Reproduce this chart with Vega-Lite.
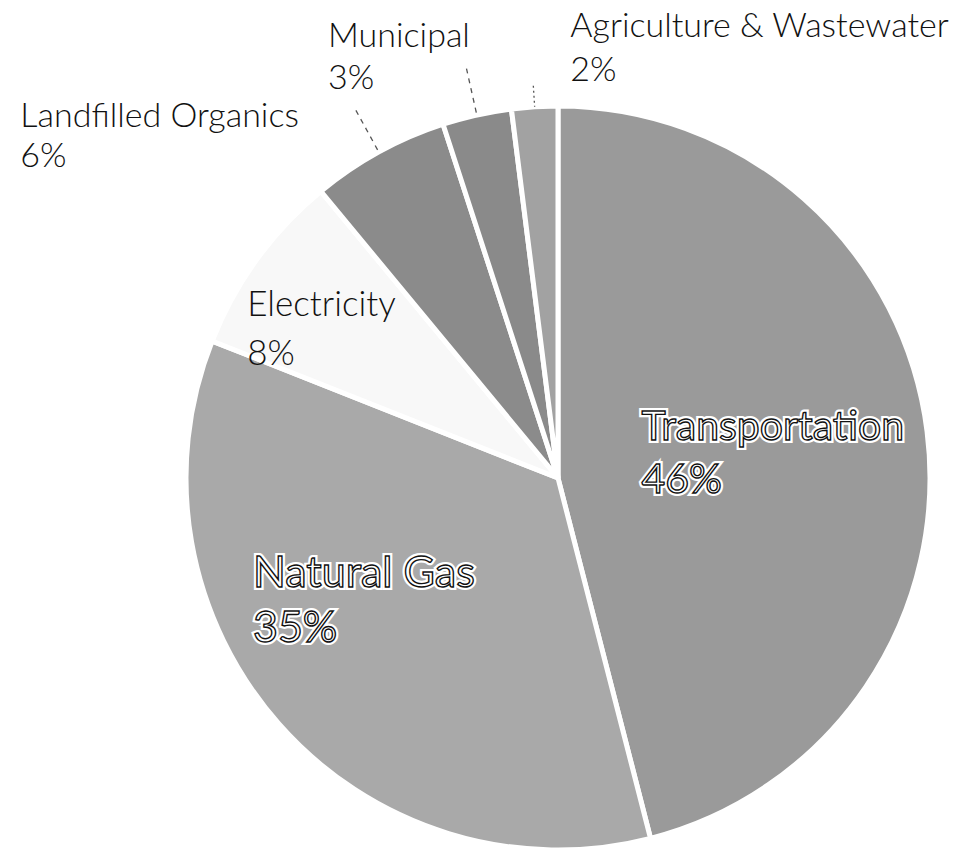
{
  "$schema": "https://vega.github.io/schema/vega-lite/v6.json",
  "width": 744,
  "height": 744,
  "autosize": {"type": "none"},
  "padding": {"left": 186, "top": 106, "right": 43, "bottom": 8},
  "background": "white",
  "config": {"view": {"stroke": null}},
  "data": {
    "values": [
      {"category": "Transportation", "value": 46, "rank": 1, "label": "Transportation\n46%"},
      {"category": "Natural Gas", "value": 35, "rank": 2, "label": "Natural Gas\n35%"},
      {"category": "Electricity", "value": 8, "rank": 3, "label": "Electricity\n8%"},
      {"category": "Landfilled Organics", "value": 6, "rank": 4, "label": "Landfilled Organics\n6%"},
      {"category": "Municipal", "value": 3, "rank": 5, "label": "Municipal\n3%"},
      {"category": "Agriculture & Wastewater", "value": 2, "rank": 6, "label": "Agriculture & Wastewater\n2%"}
    ]
  },
  "encoding": {
    "theta": {"field": "value", "type": "quantitative", "stack": true},
    "order": {"field": "rank", "type": "quantitative", "sort": "ascending"},
    "detail": {"field": "category", "type": "nominal"}
  },
  "layer": [
    {
      "mark": {"type": "arc", "radius": 372, "stroke": "white", "strokeWidth": 5},
      "encoding": {
        "color": {
          "field": "category",
          "type": "nominal",
          "legend": null,
          "scale": {
            "domain": ["Transportation", "Natural Gas", "Electricity", "Landfilled Organics", "Municipal", "Agriculture & Wastewater"],
            "range": ["#9a9a9a", "#a9a9a9", "#f8f8f8", "#8b8b8b", "#8a8a8a", "#a2a2a2"]
          }
        }
      }
    },
    {
      "mark": {"type": "arc", "radius": 419.5, "radius2": 372, "padAngle": 0.8, "fill": null, "stroke": "#555", "strokeWidth": 1.3, "strokeDash": [5, 5]},
      "encoding": {
        "strokeOpacity": {"condition": {"test": "datum.rank === 4 || datum.rank === 5", "value": 1}, "value": 0}
      }
    },
    {
      "mark": {"type": "arc", "radius": 393, "radius2": 372, "padAngle": 0.8, "fill": null, "stroke": "#555", "strokeWidth": 1.3, "strokeDash": [2, 3]},
      "encoding": {
        "strokeOpacity": {"condition": {"test": "datum.rank === 6", "value": 1}, "value": 0}
      }
    },
    {
      "mark": {"type": "text", "radius": 442, "dx": 40, "dy": 0, "align": "left", "baseline": "alphabetic", "font": "Lato", "fontWeight": 300, "fontSize": 34, "lineBreak": "\n", "lineHeight": 44, "fill": "#111"},
      "encoding": {"text": {"condition": {"test": "datum.rank === 6", "field": "label"}, "value": ""}}
    },
    {
      "mark": {"type": "text", "radius": 440, "dx": -134, "dy": -2, "align": "left", "baseline": "alphabetic", "font": "Lato", "fontWeight": 300, "fontSize": 34, "lineBreak": "\n", "lineHeight": 42, "fill": "#111"},
      "encoding": {"text": {"condition": {"test": "datum.rank === 5", "field": "label"}, "value": ""}}
    },
    {
      "mark": {"type": "text", "radius": 400, "dx": -345, "dy": 0, "align": "left", "baseline": "alphabetic", "font": "Lato", "fontWeight": 300, "fontSize": 34, "lineBreak": "\n", "lineHeight": 40, "fill": "#111"},
      "encoding": {"text": {"condition": {"test": "datum.rank === 4", "field": "label"}, "value": ""}}
    },
    {
      "mark": {"type": "text", "radius": 300, "dx": -68, "dy": 14, "align": "left", "baseline": "alphabetic", "font": "Lato", "fontWeight": 300, "fontSize": 35, "lineBreak": "\n", "lineHeight": 49, "fill": "#111"},
      "encoding": {"text": {"condition": {"test": "datum.rank === 3", "field": "label"}, "value": ""}}
    },
    {
      "mark": {"type": "text", "radius": 190, "dx": -105, "dy": -14, "align": "left", "baseline": "alphabetic", "font": "Lato", "fontSize": 41, "lineBreak": "\n", "lineHeight": 53, "fill": "white", "stroke": "white", "strokeWidth": 6},
      "encoding": {"text": {"condition": {"test": "datum.rank === 1", "field": "label"}, "value": ""}}
    },
    {
      "mark": {"type": "text", "radius": 190, "dx": -105, "dy": -14, "align": "left", "baseline": "alphabetic", "font": "Lato", "fontSize": 41, "lineBreak": "\n", "lineHeight": 53, "fill": "white", "stroke": "#111", "strokeWidth": 1.4},
      "encoding": {"text": {"condition": {"test": "datum.rank === 1", "field": "label"}, "value": ""}}
    },
    {
      "mark": {"type": "text", "radius": 200, "dx": -155, "dy": -23, "align": "left", "baseline": "alphabetic", "font": "Lato", "fontSize": 43, "lineBreak": "\n", "lineHeight": 55, "fill": "white", "stroke": "white", "strokeWidth": 6},
      "encoding": {"text": {"condition": {"test": "datum.rank === 2", "field": "label"}, "value": ""}}
    },
    {
      "mark": {"type": "text", "radius": 200, "dx": -155, "dy": -23, "align": "left", "baseline": "alphabetic", "font": "Lato", "fontSize": 43, "lineBreak": "\n", "lineHeight": 55, "fill": "white", "stroke": "#111", "strokeWidth": 1.4},
      "encoding": {"text": {"condition": {"test": "datum.rank === 2", "field": "label"}, "value": ""}}
    }
  ]
}
